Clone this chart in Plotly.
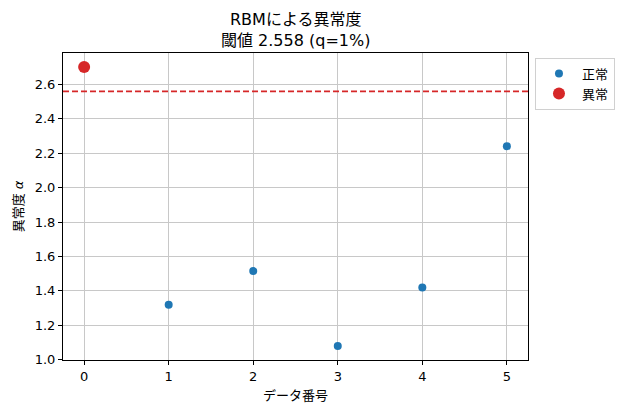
import plotly.graph_objects as go

normal_idx = [1, 2, 3, 4, 5]
normal_vals = [1.32, 1.515, 1.08, 1.42, 2.24]
anom_idx = [0]
anom_vals = [2.70]
threshold = 2.558
x_ticks = [0, 1, 2, 3, 4, 5]
y_ticks = [1.0, 1.2, 1.4, 1.6, 1.8, 2.0, 2.2, 2.4, 2.6]
title_lines = ["RBMによる異常度", "閾値 2.558 (q=1%)"]

FONT = "DejaVu Sans, Noto Sans CJK JP, sans-serif"

fig = go.Figure()
fig.add_trace(go.Scatter(x=normal_idx, y=normal_vals, mode="markers", name="正常",
                         marker=dict(color="#1f77b4", size=8)))
fig.add_trace(go.Scatter(x=anom_idx, y=anom_vals, mode="markers", name="異常",
                         marker=dict(color="#d62728", size=12)))
fig.add_hline(y=threshold, line=dict(color="#d62728", dash="6px,3px", width=1.6))

axis_common = dict(showline=True, linecolor="black", linewidth=1, mirror=True,
                   ticks="outside", ticklen=4, tickcolor="black",
                   showgrid=True, gridcolor="#c8c8c8", gridwidth=0.8,
                   zeroline=False, automargin=False,
                   tickfont=dict(size=13, color="black", family=FONT))

fig.update_xaxes(range=[-0.25, 5.25], tickvals=x_ticks,
                 title=dict(text="データ番号", font=dict(size=13, color="black", family=FONT), standoff=8),
                 **axis_common)
fig.update_yaxes(range=[0.999, 2.781], tickvals=y_ticks, tickformat=".1f",
                 title=dict(text="異常度 <i>α</i>", font=dict(size=13, color="black", family=FONT), standoff=8),
                 **axis_common)

for line, yp in zip(title_lines, [1.1075, 1.0423]):
    fig.add_annotation(text=line, xref="paper", yref="paper", x=0.5, y=yp,
                       xanchor="center", yanchor="middle", showarrow=False,
                       font=dict(size=16, color="black", family=FONT))

fig.update_layout(
    width=615, height=406,
    margin=dict(l=55, r=95, t=45, b=54, autoexpand=False),
    paper_bgcolor="white", plot_bgcolor="white",
    font=dict(family=FONT, color="black"),
    legend=dict(x=1.015, y=0.985, xanchor="left", yanchor="top",
                bordercolor="#d0d0d0", borderwidth=1, bgcolor="white",
                itemwidth=36,
                font=dict(size=13, color="black", family=FONT)),
)

fig.write_html("out.html")
